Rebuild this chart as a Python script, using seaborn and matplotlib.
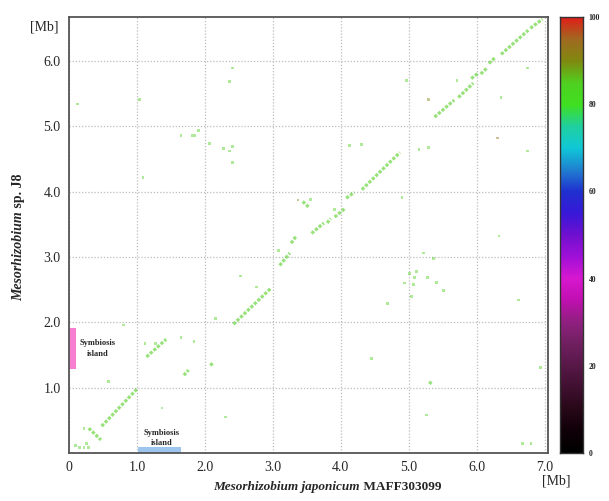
import matplotlib
matplotlib.use("Agg")
import matplotlib.pyplot as plt
import seaborn as sns
import numpy as np
import pandas as pd
from matplotlib.colors import LinearSegmentedColormap

# ---------- data (Mb) ----------
# aligned segments: start/end on each genome
seg_x0 = [0.48, 0.29, 1.14, 1.69, 2.42, 3.10, 3.27, 3.44, 3.57, 3.80, 3.91, 4.08, 4.31,
          5.38, 5.73, 5.92, 6.06, 6.18, 6.36, 6.79, 5.30, 2.08]
seg_y0 = [0.41, 0.38, 1.47, 1.19, 1.97, 2.87, 3.21, 3.85, 3.36, 3.52, 3.61, 3.90, 4.03,
          5.14, 5.44, 5.73, 5.80, 5.96, 6.10, 6.50, 1.09, 1.34]
seg_x1 = [1.01, 0.47, 1.43, 1.76, 2.97, 3.25, 3.35, 3.53, 3.75, 3.85, 4.07, 4.20, 4.87,
          5.67, 5.95, 6.02, 6.15, 6.28, 6.76, 6.97, 5.35, 2.12]
seg_y1 = [0.99, 0.20, 1.74, 1.27, 2.52, 3.06, 3.33, 3.76, 3.52, 3.59, 3.75, 3.99, 4.60,
          5.40, 5.66, 5.81, 5.89, 6.06, 6.47, 6.64, 1.05, 1.38]

# short hits
dot_x = [0.22, 0.10, 0.15, 0.22, 0.26, 0.29, 1.12, 1.27, 1.65, 1.84, 0.58, 0.80, 2.30, 1.37,
         3.37, 3.56, 3.91, 2.76, 2.52, 2.16, 3.08, 5.29, 6.36, 6.75, 5.71, 4.97,
         6.31, 6.75, 6.33, 5.12, 5.01, 5.09, 5.28, 5.22, 5.36, 5.41, 5.51, 5.04, 4.94, 5.07,
         4.69, 5.26, 6.94, 4.45, 6.68, 6.80, 6.62, 1.65, 1.81, 1.85, 1.91, 2.07, 2.27, 2.36,
         2.41, 2.41, 1.09, 2.41, 2.36, 1.04, 0.12, 4.13, 4.30, 5.15, 5.29, 4.90]
dot_y = [0.38, 0.12, 0.08, 0.09, 0.15, 0.08, 1.68, 1.68, 1.77, 1.71, 1.09, 1.96, 0.55, 0.69,
         3.87, 3.88, 3.73, 2.54, 2.71, 2.06, 3.10, 5.41, 5.44, 5.89, 5.70, 5.70,
         4.82, 4.62, 3.32, 2.78, 2.75, 2.68, 2.68, 3.06, 2.98, 2.61, 2.49, 2.39, 2.60, 2.58,
         2.29, 0.58, 1.31, 1.45, 0.15, 0.15, 2.34, 4.86, 4.86, 4.86, 4.94, 4.74, 4.66, 4.62,
         4.69, 4.45, 4.22, 5.89, 5.69, 5.41, 5.34, 4.71, 4.72, 4.65, 4.68, 3.91]
dot_identity = [85] * len(dot_x)
dot_identity[14] = 90
dot_identity[21] = 90
dot_identity[26] = 94

# symbiosis islands
island_y = (1.28, 1.91)   # on J8
island_x = (1.02, 1.65)   # on MAFF303099

x_ticks = [0, 1, 2, 3, 4, 5, 6, 7]
x_labels = ["0", "1.0", "2.0", "3.0", "4.0", "5.0", "6.0", "7.0"]
y_ticks = [1, 2, 3, 4, 5, 6]
y_labels = ["1.0", "2.0", "3.0", "4.0", "5.0", "6.0"]

cbar_ticks = [0, 20, 40, 60, 80, 100]
cmap_colors = ["#000000", "#100008", "#280818", "#401030", "#581848", "#702060",
               "#902080", "#c010b0", "#d818d0", "#a010d8", "#7010d0", "#3818d8",
               "#2030d0", "#2080d0", "#10c8d8", "#20d0a0", "#40e020", "#50d020",
               "#808a10", "#a06a20", "#e0201a"]
identity_cmap = LinearSegmentedColormap.from_list("identity", cmap_colors)

# ---------- plot ----------
sns.set_style("white")
plt.rcParams["font.family"] = ["Liberation Serif", "DejaVu Serif"]

fig = plt.figure(figsize=(6.09, 5.01), dpi=100)
ax = fig.add_axes([0.1133, 0.0958, 0.7865, 0.870])
cax = fig.add_axes([0.9195, 0.0958, 0.0378, 0.870])

seg_df = pd.DataFrame({
    "seg": np.repeat(np.arange(len(seg_x0)), 2),
    "x": np.ravel(np.column_stack([seg_x0, seg_x1])),
    "y": np.ravel(np.column_stack([seg_y0, seg_y1])),
})
seg_color = identity_cmap(0.85)
sns.lineplot(data=seg_df, x="x", y="y", units="seg", estimator=None, sort=False,
             color=seg_color, linewidth=2.3, alpha=0.6,
             linestyle=(0, (1.0, 0.5)), ax=ax)

dot_df = pd.DataFrame({"x": dot_x, "y": dot_y, "identity": dot_identity})
sns.scatterplot(data=dot_df, x="x", y="y", hue="identity", palette=identity_cmap,
                hue_norm=(0, 100), marker="s", s=4, linewidth=0, alpha=0.45,
                legend=False, ax=ax)

# symbiosis island bars
ax.fill_between([0, 0.1], island_y[0], island_y[1], color="#f77ed0", linewidth=0)
ax.fill_between([island_x[0], island_x[1]], 0, 0.09, color="#9cc4ec", linewidth=0)
ax.text(0.42, 1.6, "Symbiosis\nisland", ha="center", va="center", fontsize=6,
        fontweight="bold", linespacing=1.4)
ax.text(1.36, 0.23, "Symbiosis\nisland", ha="center", va="center", fontsize=6,
        fontweight="bold", linespacing=1.4)

ax.set_xlim(0, 7.05)
ax.set_ylim(0, 6.67)
ax.set_xticks(x_ticks)
ax.set_xticklabels(x_labels)
ax.set_yticks(y_ticks)
ax.set_yticklabels(y_labels)
ax.tick_params(length=0, labelsize=10, pad=6)
ax.grid(True, color="#bdbdbd", linestyle=(0, (1.0, 1.5)), linewidth=0.9)
ax.set_xlabel("")
ax.set_ylabel("")
for sp in ax.spines.values():
    sp.set_color("#555555")
    sp.set_linewidth(1.3)

# axis titles: italic genus + upright strain
t1 = fig.text(0.350, 0.022, "Mesorhizobium japonicum", fontsize=9.5,
              fontweight="bold", style="italic", va="baseline", ha="left")
ax.annotate(" MAFF303099", xy=(1, 0), xycoords=t1, va="bottom", ha="left",
            fontsize=9.5, fontweight="bold")
t2 = fig.text(0.020, 0.400, "Mesorhizobium", fontsize=10, fontweight="bold",
              style="italic", rotation=90, va="bottom", ha="left")
ax.annotate(" sp. J8", xy=(0, 1), xycoords=t2, va="bottom", ha="left",
            fontsize=10, fontweight="bold", rotation=90)

fig.text(0.073, 0.946, "[Mb]", fontsize=10, ha="center", va="center")
fig.text(0.914, 0.040, "[Mb]", fontsize=10, ha="center", va="center")

# colorbar
grad = np.linspace(0, 100, 256).reshape(-1, 1)
cax.imshow(grad, aspect="auto", cmap=identity_cmap, origin="lower",
           extent=(0, 1, 0, 100))
cax.set_xticks([])
cax.yaxis.tick_right()
cax.set_yticks(cbar_ticks)
cax.set_yticklabels([str(t) for t in cbar_ticks], fontsize=5.5, fontweight="bold")
cax.tick_params(length=0, pad=4)
for sp in cax.spines.values():
    sp.set_color("#333333")
    sp.set_linewidth(1.0)

fig.savefig("out.png", dpi=100)
